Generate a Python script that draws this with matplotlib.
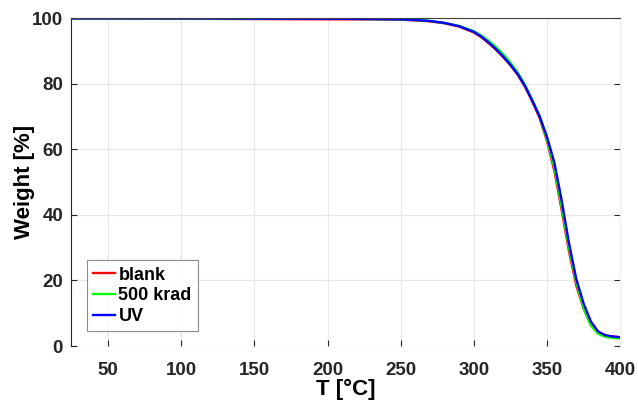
import matplotlib
matplotlib.use("Agg")
import matplotlib.pyplot as plt

plt.rcParams['font.family'] = ['Liberation Sans', 'DejaVu Sans']
plt.rcParams['font.weight'] = 'bold'

# TGA curves: temperature in degC, remaining weight in %
temp = [25, 50, 100, 150, 200, 230, 250, 260, 270, 280, 290, 300, 305, 310,
        315, 320, 325, 330, 335, 340, 345, 350, 355, 360, 365, 370, 375,
        380, 385, 390, 395, 400]

w_blank = [99.9, 99.9, 99.8, 99.7, 99.6, 99.6, 99.5, 99.3, 99.0, 98.4, 97.4,
           95.6, 94.2, 92.4, 90.4, 88.1, 85.6, 82.7, 79.0, 74.5, 69.5, 62.5,
           53.5, 41.5, 29.0, 18.5, 11.5, 6.5, 4.0, 3.2, 2.9, 2.7]
w_500krad = [99.9, 99.9, 99.9, 99.8, 99.8, 99.7, 99.6, 99.4, 99.1, 98.5,
             97.6, 96.0, 94.7, 93.1, 91.2, 89.0, 86.4, 83.4, 79.6, 75.0, 70.0,
             63.0, 54.5, 42.5, 30.0, 19.5, 11.5, 6.3, 3.7, 2.8, 2.5, 2.3]
w_uv = [99.9, 99.9, 99.9, 99.8, 99.8, 99.7, 99.6, 99.4, 99.1, 98.5, 97.5,
        95.8, 94.4, 92.6, 90.6, 88.3, 85.8, 82.9, 79.3, 74.8, 70.0, 63.8,
        56.0, 44.5, 31.5, 20.5, 13.0, 7.5, 4.4, 3.3, 2.9, 2.7]

fig = plt.figure(figsize=(6.38, 4.01), dpi=100)
ax = fig.add_axes([0.112, 0.137, 0.860, 0.818])

ax.plot(temp, w_blank, color='#ff0000', lw=1.7, label='blank')
ax.plot(temp, w_500krad, color='#00ff00', lw=1.7, label='500 krad')
ax.plot(temp, w_uv, color='#0000ff', lw=1.7, label='UV')

ax.set_xlim(25, 400)
ax.set_ylim(0, 100)
ax.set_xticks(range(50, 401, 50))
ax.set_yticks(range(0, 101, 20))
ax.grid(True, color='#e8e8e8', lw=0.8)
ax.set_axisbelow(True)

ax.tick_params(direction='in', length=4, width=0.8, colors='#262626',
               labelsize=13.5, right=True, top=False)
ax.tick_params(axis='x', pad=11.5)
ax.tick_params(axis='y', pad=6)
for lab in ax.get_xticklabels() + ax.get_yticklabels():
    lab.set_fontweight('bold')

ax.spines['left'].set_color('#262626')
ax.spines['top'].set_color('#404040')
ax.spines['bottom'].set_visible(False)
ax.spines['right'].set_color('#f0f0f0')

ax.set_xlabel('T [°C]', fontsize=16, fontweight='bold', labelpad=0)
ax.set_ylabel('Weight [%]', fontsize=16, fontweight='bold', labelpad=-2)

leg = ax.legend(loc='lower left', bbox_to_anchor=(0.028, 0.045),
                fontsize=13, frameon=True, fancybox=False,
                handlelength=1.2, handletextpad=0.2, labelspacing=0.2,
                borderpad=0.35, borderaxespad=0)
leg.get_frame().set_edgecolor('#707070')
leg.get_frame().set_linewidth(0.8)
for t in leg.get_texts():
    t.set_fontweight('bold')

fig.savefig('out.png', dpi=100)
